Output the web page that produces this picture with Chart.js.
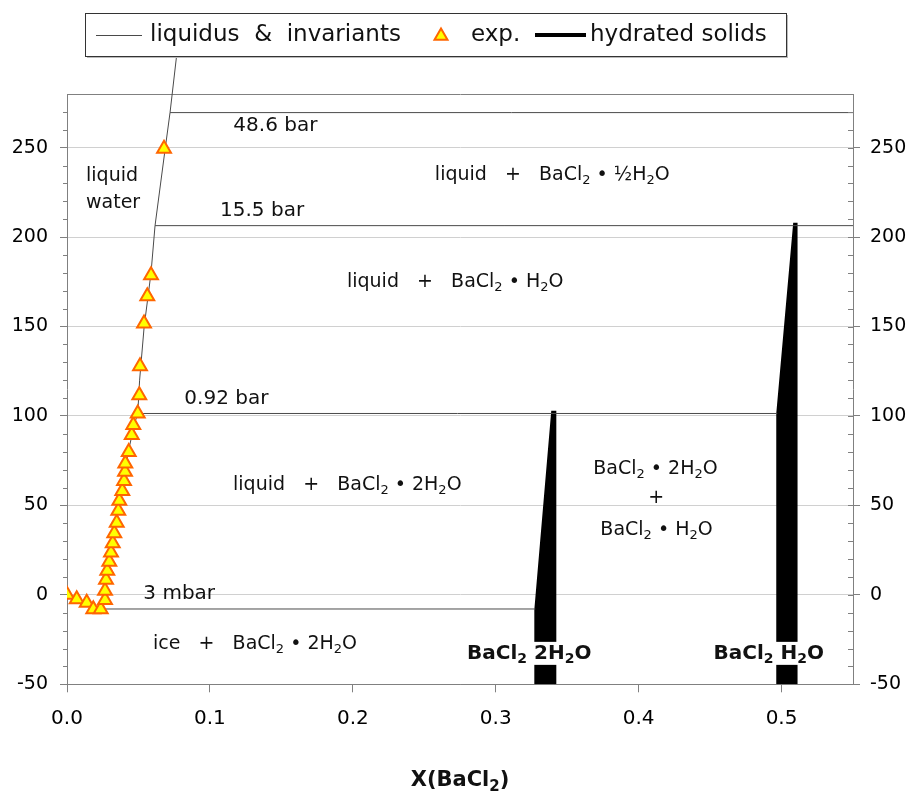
<!DOCTYPE html>
<html>
<head>
<meta charset="utf-8">
<script src="https://cdn.jsdelivr.net/npm/chart.js@4.4.1/dist/chart.umd.min.js"></script>
<style>
  html, body { margin: 0; padding: 0; background: #fff; }
</style>
</head>
<body>
<canvas id="grafico" width="910" height="797"></canvas>
<script>
// Diagrama de fases BaCl2 - H2O (X(BaCl2) x T / °C)

// curva liquidus
const liqX = [0, 0.0225, 0.0262, 0.0285, 0.0325, 0.0365, 0.0405, 0.044, 0.047, 0.0495, 0.0508, 0.054, 0.0588, 0.0616, 0.0688, 0.0721, 0.0775];
const liqT = [0, -7.9, 0, 15, 32, 52, 70, 84, 95, 101.4, 120, 150, 180, 206.4, 250, 269.6, 307];

// pontos experimentais
const expX = [0, 0.0068, 0.0138, 0.0184, 0.0236, 0.0266, 0.0266, 0.0273, 0.0282, 0.0296, 0.0308, 0.032, 0.0331, 0.0348, 0.0359,
              0.0366, 0.0387, 0.0399, 0.0406, 0.0408, 0.0432, 0.0453, 0.0464, 0.0495, 0.0506, 0.0511, 0.0539, 0.0562, 0.0588, 0.0679];
const expT = [0, -2.5, -4.4, -8.1, -8.1, -2.9, 2.3, 8.5, 13.5, 18.5, 23.7, 28.8, 34.4, 40.3, 47,
              52.6, 58, 63.6, 68.8, 73.5, 79.9, 89.3, 94.9, 101.4, 111.6, 127.8, 151.7, 166.9, 178.7, 249.4];

// linhas invariantes
const invNomes = ['3 mbar', '0.92 bar', '15.5 bar', '48.6 bar'];
const invT = [-7.9, 101.4, 206.4, 269.6];
const invX0 = [0.0225, 0.0495, 0.0616, 0.0721];
const invX1 = [0.3277, 0.497, 0.55, 0.55];

// sólidos hidratados (contornos)
const s2X = [0.3277, 0.3277, 0.3395, 0.3417, 0.3417];
const s2T = [-50, -8.4, 102.3, 102.3, -50];
const s1X = [0.497, 0.497, 0.5088, 0.5105, 0.5105];
const s1T = [-50, 101.4, 207.5, 207.5, -50];

// ticks
const xTicks = [0, 0.1, 0.2, 0.3, 0.4, 0.5];
const yTicks = [-50, 0, 50, 100, 150, 200, 250];

const FONTE = '"DejaVu Sans", sans-serif';
const pares = (xs, ys) => xs.map((v, i) => ({ x: v, y: ys[i] }));

// texto com subscritos: "BaCl_2" -> BaCl + 2 subscrito
function textoRico(ctx, txt, px, py, size, bold, align, fundo) {
  const partes = txt.split(/_(\d)/).map((t, i) => ({ t, sub: i % 2 === 1 }));
  const fBase = (bold ? 'bold ' : '') + size + 'px ' + FONTE;
  const fSub = (bold ? 'bold ' : '') + Math.round(size * 0.7) + 'px ' + FONTE;
  let w = 0;
  partes.forEach(p => { ctx.font = p.sub ? fSub : fBase; p.w = ctx.measureText(p.t).width; w += p.w; });
  let cx = align === 'center' ? px - w / 2 : px;
  if (fundo) {
    ctx.fillStyle = '#fff';
    ctx.fillRect(cx - 2, py - 11.5, w + 4, 23);
  }
  ctx.fillStyle = '#111';
  ctx.textAlign = 'left';
  ctx.textBaseline = 'middle';
  partes.forEach(p => {
    ctx.font = p.sub ? fSub : fBase;
    ctx.fillText(p.t, cx, p.sub ? py + size * 0.3 : py);
    cx += p.w;
  });
}

// rótulos (posição em unidades do gráfico)
const rotulos = [
  { t: 'liquid', x: 0.0133, y: 234.1, s: 19 },
  { t: 'water', x: 0.0133, y: 219.3, s: 19 },
  { t: 'liquid   +   BaCl_2 • ½H_2O', x: 0.2574, y: 234.5, s: 19 },
  { t: 'liquid   +   BaCl_2 • H_2O', x: 0.1959, y: 174.9, s: 19 },
  { t: 'liquid   +   BaCl_2 • 2H_2O', x: 0.1162, y: 61.3, s: 19 },
  { t: 'ice   +   BaCl_2 • 2H_2O', x: 0.0602, y: -27.5, s: 19 },
  { t: 'BaCl_2 • 2H_2O', x: 0.4118, y: 70.3, s: 19, a: 'center' },
  { t: '+', x: 0.4123, y: 54.1, s: 19, a: 'center' },
  { t: 'BaCl_2 • H_2O', x: 0.4125, y: 36.2, s: 19, a: 'center' },
  { t: '48.6 bar', x: 0.1164, y: 262.1, s: 20 },
  { t: '15.5 bar', x: 0.1071, y: 214.6, s: 20 },
  { t: '0.92 bar', x: 0.0821, y: 109.8, s: 20 },
  { t: '3 mbar', x: 0.0534, y: 0.8, s: 20 },
  { t: 'BaCl_2 2H_2O', x: 0.2799, y: -32.7, s: 20, b: true, f: true },
  { t: 'BaCl_2 H_2O', x: 0.4524, y: -32.7, s: 20, b: true, f: true }
];

const anotacoes = {
  id: 'anotacoes',
  afterDatasetsDraw(chart) {
    const { ctx, scales: { x, y }, chartArea } = chart;
    ctx.save();

    // ticks menores (a cada 10)
    ctx.strokeStyle = '#808080';
    ctx.lineWidth = 1;
    for (let v = -40; v < 280; v += 10) {
      const py = Math.round(y.getPixelForValue(v)) + 0.5;
      ctx.beginPath();
      if (v % 50 !== 0) {
        ctx.moveTo(chartArea.left - 4, py); ctx.lineTo(chartArea.left, py);
      }
      ctx.moveTo(chartArea.right - 5, py); ctx.lineTo(chartArea.right, py);
      ctx.stroke();
    }

    rotulos.forEach(r => {
      textoRico(ctx, r.t, x.getPixelForValue(r.x), y.getPixelForValue(r.y), r.s, r.b, r.a, r.f);
    });

    // título do eixo x
    textoRico(ctx, 'X(BaCl_2)', (chartArea.left + chartArea.right) / 2, 781, 21, true, 'center');

    // legenda
    const lx = 85, ly = 13, lw = 701, lh = 43, my = 35;
    ctx.fillStyle = '#bbb';
    ctx.fillRect(lx + 2, ly + 2, lw, lh);
    ctx.fillStyle = '#fff';
    ctx.fillRect(lx, ly, lw, lh);
    ctx.strokeStyle = '#333';
    ctx.lineWidth = 1;
    ctx.strokeRect(lx + 0.5, ly + 0.5, lw, lh);

    ctx.beginPath();
    ctx.strokeStyle = '#4a4a4a';
    ctx.moveTo(96, my + 0.5); ctx.lineTo(142, my + 0.5);
    ctx.stroke();
    textoRico(ctx, 'liquidus  &  invariants', 150, my, 23);

    ctx.beginPath();
    const r = 7.5;
    const ty = my + 1;
    ctx.moveTo(441, ty - r);
    ctx.lineTo(441 + r * 0.866, ty + r / 2);
    ctx.lineTo(441 - r * 0.866, ty + r / 2);
    ctx.closePath();
    ctx.fillStyle = '#ffff00';
    ctx.fill();
    ctx.strokeStyle = '#ff6600';
    ctx.lineWidth = 2;
    ctx.stroke();
    textoRico(ctx, 'exp.', 471, my, 23);

    ctx.beginPath();
    ctx.strokeStyle = '#000';
    ctx.lineWidth = 4;
    ctx.moveTo(535, my); ctx.lineTo(586, my);
    ctx.stroke();
    textoRico(ctx, 'hydrated solids', 590, my, 23);

    ctx.restore();
  }
};

const datasets = [
  {
    label: 'exp.',
    data: pares(expX, expT),
    showLine: false,
    pointStyle: 'triangle',
    pointRadius: 8,
    pointBackgroundColor: '#ffff00',
    pointBorderColor: '#ff6600',
    pointBorderWidth: 2
  },
  {
    label: 'liquidus',
    data: pares(liqX, liqT),
    borderColor: '#4a4a4a',
    borderWidth: 1,
    pointRadius: 0,
    clip: false
  }
];

invT.forEach((t, i) => {
  datasets.push({
    label: invNomes[i],
    data: [{ x: invX0[i], y: t }, { x: invX1[i], y: t }],
    borderColor: '#4a4a4a',
    borderWidth: 1,
    pointRadius: 0
  });
});

[[s2X, s2T, 'BaCl2·2H2O'], [s1X, s1T, 'BaCl2·H2O']].forEach(([xs, ts, nome]) => {
  datasets.push({
    label: nome,
    data: pares(xs, ts),
    borderColor: '#000',
    backgroundColor: '#000',
    borderWidth: 2,
    pointRadius: 0,
    fill: 'shape'
  });
});

const eixoY = (pos) => ({
  type: 'linear',
  position: pos,
  min: -50,
  max: 280,
  afterBuildTicks: s => { s.ticks = []; for (let v = -50; v <= 280; v += 10) s.ticks.push({ value: v }); },
  afterFit: s => { s.width = pos === 'left' ? 67 : 57; },
  ticks: {
    autoSkip: false,
    padding: pos === 'left' ? 12 : 10,
    color: '#000',
    font: { family: FONTE, size: 19 },
    callback: v => yTicks.includes(v) ? String(v) : ''
  },
  grid: {
    drawOnChartArea: pos === 'left',
    tickLength: 7,
    color: c => {
      const v = c.tick ? c.tick.value : null;
      if (v === 280 || v === -50) return '#808080';
      return yTicks.includes(v) ? '#d0d0d0' : 'rgba(0,0,0,0)';
    },
    tickColor: c => (c.tick && yTicks.includes(c.tick.value)) ? '#808080' : 'rgba(0,0,0,0)'
  },
  border: { color: '#808080' }
});

new Chart(document.getElementById('grafico'), {
  type: 'line',
  data: { datasets },
  options: {
    responsive: false,
    animation: false,
    devicePixelRatio: 1,
    layout: { padding: { top: 94, left: 0, right: 0, bottom: 0 } },
    plugins: { legend: { display: false }, tooltip: { enabled: false } },
    scales: {
      x: {
        type: 'linear',
        min: 0,
        max: 0.55,
        afterBuildTicks: s => { s.ticks = xTicks.map(v => ({ value: v })); },
        afterFit: s => { s.height = 112.7; },
        ticks: {
          padding: 14,
          color: '#000',
          font: { family: FONTE, size: 20 },
          callback: v => v.toFixed(1)
        },
        grid: { drawOnChartArea: false, tickLength: 8, tickColor: '#808080' },
        border: { color: '#808080' }
      },
      y: eixoY('left'),
      y2: eixoY('right')
    }
  },
  plugins: [anotacoes]
});
</script>
</body>
</html>
